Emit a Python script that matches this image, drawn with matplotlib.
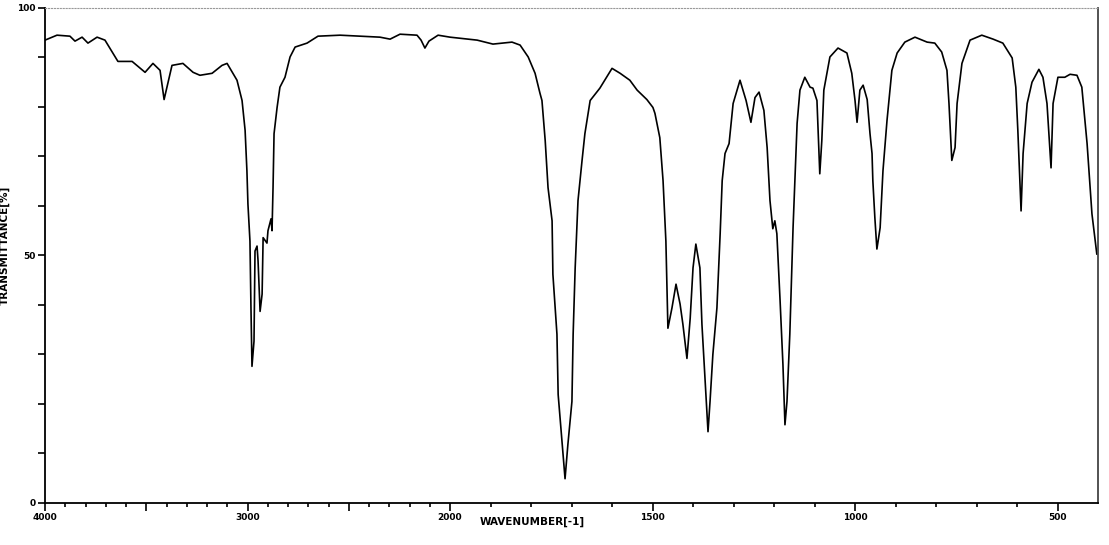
import numpy as np
import matplotlib
matplotlib.use('Agg')
import matplotlib.pyplot as plt
from matplotlib.ticker import FixedLocator, FixedFormatter

# IR spectrum (wavenumber in cm-1, transmittance in %)
wavenumber = [
    4000, 3941, 3877, 3852, 3817, 3788, 3743, 3704, 3640, 3570,
    3506, 3467, 3432, 3412, 3373, 3319, 3269, 3235, 3175, 3126,
    3101, 3052, 3027, 3012, 3003, 2998, 2988, 2983, 2978, 2968,
    2963, 2953, 2948, 2938, 2928, 2923, 2904, 2899, 2884, 2879,
    2874, 2869, 2854, 2840, 2815, 2790, 2765, 2706, 2652, 2543,
    2346, 2296, 2247, 2163, 2143, 2124, 2104, 2059, 2000, 1933,
    1894, 1847, 1827, 1807, 1790, 1778, 1773, 1765, 1758, 1748,
    1746, 1736, 1733, 1723, 1716, 1709, 1699, 1696, 1691, 1684,
    1674, 1667, 1654, 1630, 1600, 1580, 1556, 1538, 1514, 1499,
    1494, 1487, 1482, 1474, 1467, 1462, 1452, 1442, 1432, 1425,
    1415, 1407, 1400, 1393, 1383, 1378, 1370, 1363, 1358, 1351,
    1341, 1333, 1328, 1321, 1311, 1301, 1284, 1269, 1257, 1247,
    1237, 1225, 1217, 1210, 1203, 1198, 1193, 1185, 1178, 1173,
    1168, 1161, 1153, 1143, 1136, 1124, 1111, 1104, 1094, 1087,
    1082, 1077, 1062, 1042, 1020, 1008, 1000, 995, 988, 980,
    970, 963, 958, 956, 951, 946, 938, 931, 921, 909,
    896, 877, 852, 822, 803, 786, 773, 768, 761, 753,
    748, 736, 716, 687, 659, 635, 612, 603, 598, 590,
    585, 575, 563, 546, 536, 526, 516, 511, 499, 482,
    469, 452, 440, 427, 415, 403,
]
transmittance = [
    93.5, 94.5, 94.3, 93.3, 94.1, 92.9, 94.1, 93.5, 89.2, 89.2,
    87.0, 88.8, 87.4, 81.5, 88.4, 88.8, 87.0, 86.4, 86.8, 88.4,
    88.8, 85.4, 81.3, 75.3, 67.1, 60.4, 52.9, 39.4, 27.6, 32.7,
    50.9, 51.9, 48.9, 38.7, 42.2, 53.6, 52.5, 55.0, 57.4, 55.0,
    63.7, 74.6, 79.9, 84.0, 86.0, 90.1, 92.1, 92.9, 94.3, 94.5,
    94.1, 93.7, 94.7, 94.5, 93.5, 91.9, 93.3, 94.5, 94.1, 93.5,
    92.7, 93.1, 92.5, 90.1, 86.8, 82.8, 81.3, 73.2, 63.7, 57.0,
    46.2, 34.1, 21.9, 11.8, 4.9, 11.8, 20.5, 34.1, 47.5, 61.1,
    69.2, 74.6, 81.3, 83.8, 87.8, 86.8, 85.4, 83.4, 81.5, 79.9,
    78.7, 75.9, 73.8, 65.1, 52.9, 35.3, 39.4, 44.2, 40.2, 36.1,
    29.2, 37.3, 47.5, 52.3, 47.5, 36.1, 24.5, 14.4, 20.5, 30.0,
    39.4, 54.4, 65.1, 70.6, 72.6, 80.7, 85.4, 81.3, 76.9, 81.9,
    83.0, 79.3, 71.8, 61.1, 55.4, 57.0, 54.4, 40.8, 28.0, 15.8,
    20.5, 34.1, 55.6, 76.7, 83.4, 86.0, 84.0, 83.8, 81.3, 66.5,
    73.2, 83.4, 90.1, 91.9, 90.9, 86.8, 81.3, 76.9, 83.4, 84.4,
    81.5, 74.6, 70.6, 65.1, 57.6, 51.3, 55.6, 67.1, 77.3, 87.4,
    90.9, 93.1, 94.1, 93.1, 92.9, 91.1, 87.4, 80.7, 69.2, 71.8,
    80.7, 88.8, 93.5, 94.5, 93.7, 92.9, 89.9, 84.0, 75.3, 59.0,
    70.6, 80.7, 85.0, 87.6, 86.0, 80.7, 67.7, 80.7, 86.0, 86.0,
    86.6, 86.4, 84.0, 72.6, 58.4, 50.3,
]

x_major = [4000, 3500, 3000, 2500, 2000, 1500, 1000, 500]
x_major_labels = ['4000', '', '3000', '', '2000', '1500', '1000', '500']
x_minor = list(range(3900, 400, -100))
y_major = [0, 50, 100]
y_minor = list(range(0, 101, 10))


# the chart uses half the scale above 2000 cm-1
def forward(w):
    w = np.asarray(w, dtype=float)
    return np.where(w >= 2000, 2000 + (w - 2000) / 2, w)


def inverse(p):
    p = np.asarray(p, dtype=float)
    return np.where(p >= 2000, 2000 + 2 * (p - 2000), p)


fig = plt.figure(figsize=(11.09, 5.45), dpi=100)
ax = fig.add_axes([0.0406, 0.0771, 0.9495, 0.9083])
ax.set_xscale('function', functions=(forward, inverse))

ax.plot(wavenumber, transmittance, color='black', lw=1.2)

ax.set_xlim(4000, 400)
ax.set_ylim(0, 100)

ax.xaxis.set_major_locator(FixedLocator(x_major))
ax.xaxis.set_major_formatter(FixedFormatter(x_major_labels))
ax.xaxis.set_minor_locator(FixedLocator(x_minor))
ax.yaxis.set_major_locator(FixedLocator(y_major))
ax.yaxis.set_minor_locator(FixedLocator(y_minor))

ax.tick_params(axis='x', which='major', direction='out', length=6,
               width=1.2, pad=1, labelsize=6.5)
ax.tick_params(axis='x', which='minor', direction='out', length=3,
               width=1.2)
ax.tick_params(axis='y', which='both', direction='out', length=5,
               width=1.2, pad=2, labelsize=6.5)
for lab in ax.get_xticklabels() + ax.get_yticklabels():
    lab.set_fontweight('bold')

ax.spines['left'].set_linewidth(1.3)
ax.spines['bottom'].set_linewidth(1.3)
ax.spines['top'].set_color('#999999')
ax.spines['top'].set_linestyle(':')
ax.spines['right'].set_color('#444444')
ax.spines['right'].set_linewidth(1.3)

ax.set_xlabel('WAVENUMBER[-1]', fontsize=7.5, fontweight='bold')
ax.xaxis.set_label_coords(0.463, -0.028)
ax.set_ylabel('TRANSMITTANCE[%]', fontsize=7.5, fontweight='bold')
ax.yaxis.set_label_coords(-0.033, 0.52)

fig.savefig('out.png', dpi=100)
